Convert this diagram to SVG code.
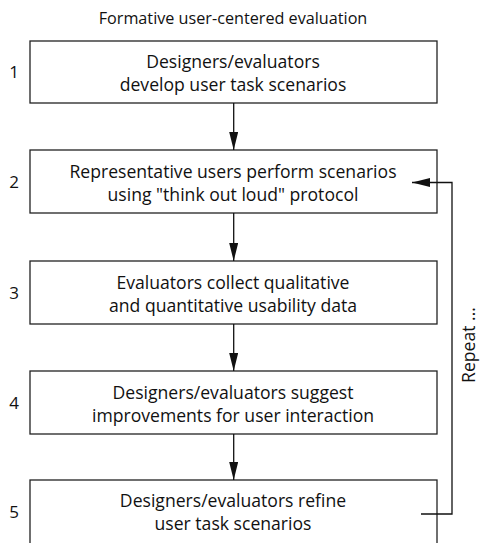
<svg xmlns="http://www.w3.org/2000/svg" width="484" height="543" viewBox="0 0 484 543">
  <defs>
    <marker id="arrow" viewBox="0 0 20 10" refX="20" refY="5" markerWidth="19" markerHeight="9" markerUnits="userSpaceOnUse" orient="auto">
      <path d="M0,0 L20,5 L0,10 Z" fill="#111"/>
    </marker>
    <style>
      .box { fill: #fff; stroke: #222; stroke-width: 1.3; }
      .label { font-family: "Open Sans", "Liberation Sans", sans-serif; font-size: 17.6px; fill: #111; text-anchor: middle; }
      .num { font-family: "Open Sans", "Liberation Sans", sans-serif; font-size: 17px; fill: #111; text-anchor: middle; }
      .title { font-family: "Open Sans", "Liberation Sans", sans-serif; font-size: 16.2px; fill: #111; text-anchor: middle; }
      .edge { fill: none; stroke: #111; stroke-width: 1.3; }
    </style>
  </defs>
  <rect width="484" height="543" fill="#fff"/>

  <text class="title" x="233" y="24">Formative user-centered evaluation</text>

  <g id="step1">
    <rect class="box" x="30" y="41" width="407" height="62"/>
    <text class="num" x="14" y="78">1</text>
    <text class="label" x="233" y="68">Designers/evaluators</text>
    <text class="label" x="233" y="91">develop user task scenarios</text>
  </g>

  <g id="step2">
    <rect class="box" x="30" y="150" width="407" height="63"/>
    <text class="num" x="14" y="188">2</text>
    <text class="label" x="233" y="178">Representative users perform scenarios</text>
    <text class="label" x="233" y="201">using "think out loud" protocol</text>
  </g>

  <g id="step3">
    <rect class="box" x="30" y="261" width="407" height="63"/>
    <text class="num" x="14" y="299">3</text>
    <text class="label" x="233" y="289">Evaluators collect qualitative</text>
    <text class="label" x="233" y="312">and quantitative usability data</text>
  </g>

  <g id="step4">
    <rect class="box" x="30" y="371" width="407" height="63"/>
    <text class="num" x="14" y="409">4</text>
    <text class="label" x="233" y="399">Designers/evaluators suggest</text>
    <text class="label" x="233" y="422">improvements for user interaction</text>
  </g>

  <g id="step5">
    <rect class="box" x="30" y="480" width="407" height="70"/>
    <text class="num" x="14" y="518">5</text>
    <text class="label" x="233" y="507">Designers/evaluators refine</text>
    <text class="label" x="233" y="530">user task scenarios</text>
  </g>

  <g id="repeat-label">
    <text class="label" transform="translate(475,345) rotate(-90)">Repeat ...</text>
  </g>

  <g id="connectors">
    <line class="edge" x1="233.7" y1="103" x2="233.7" y2="150" marker-end="url(#arrow)"/>
    <line class="edge" x1="233.7" y1="213" x2="233.7" y2="261" marker-end="url(#arrow)"/>
    <line class="edge" x1="233.7" y1="324" x2="233.7" y2="371" marker-end="url(#arrow)"/>
    <line class="edge" x1="233.7" y1="434" x2="233.7" y2="480" marker-end="url(#arrow)"/>
    <polyline class="edge" points="421,514 452,514 452,182.5 412,182.5" marker-end="url(#arrow)"/>
  </g>
</svg>
